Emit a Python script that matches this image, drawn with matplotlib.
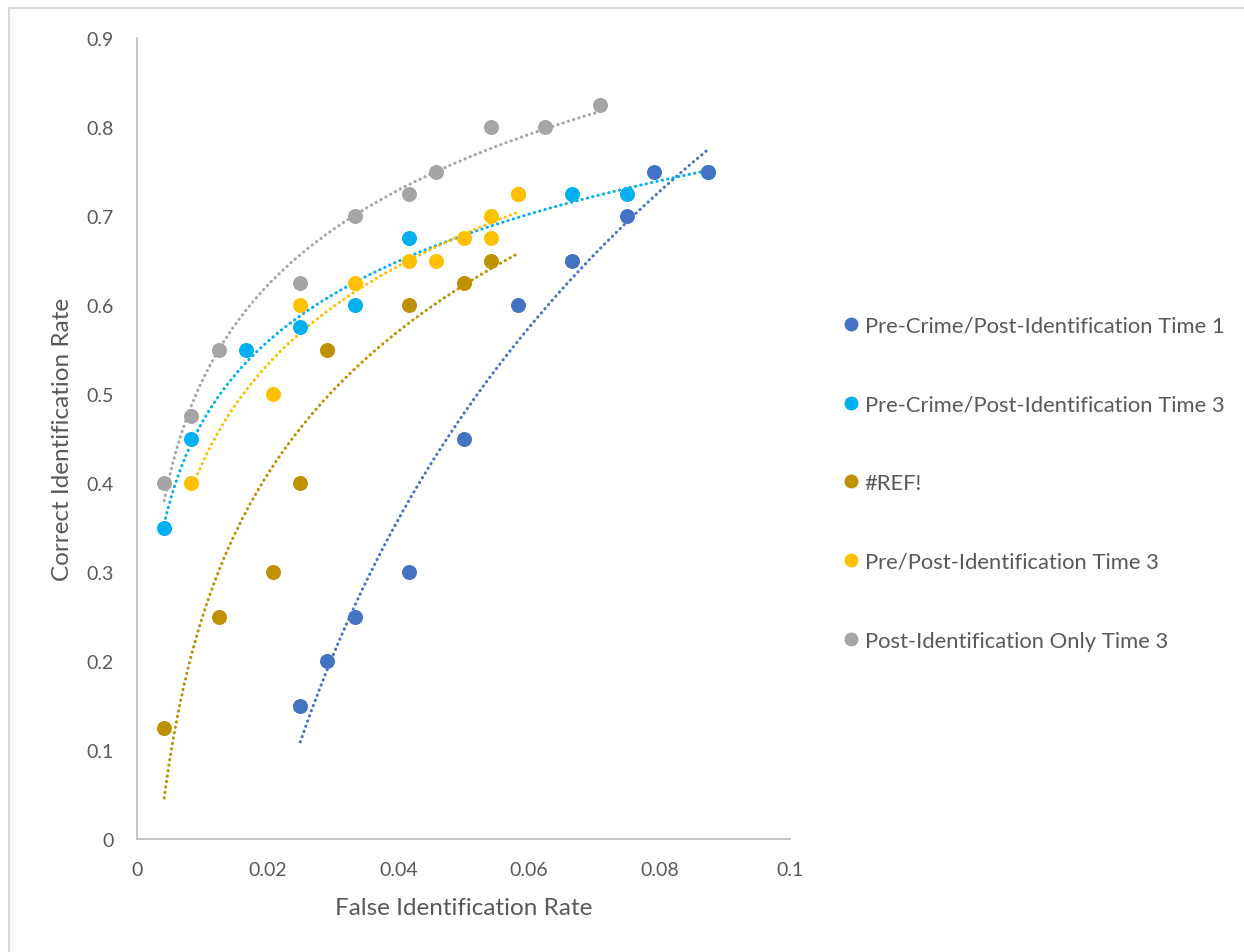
import numpy as np
import matplotlib.pyplot as plt
from matplotlib.lines import Line2D
from matplotlib.patches import Rectangle

plt.rcParams['font.family'] = ['Lato', 'DejaVu Sans']

labels = ['Pre-Crime/Post-Identification Time 1',
          'Pre-Crime/Post-Identification Time 3',
          '#REF!',
          'Pre/Post-Identification Time 3',
          'Post-Identification Only Time 3']
colors = ['#4472C4', '#00B0F0', '#BF9000', '#FFC000', '#A5A5A5']

# false identification rates are steps of 1/240
t1_x = [6, 7, 8, 10, 12, 14, 16, 18, 19, 21]
t1_y = [0.15, 0.2, 0.25, 0.3, 0.45, 0.6, 0.65, 0.7, 0.75, 0.75]

t3_x = [1, 2, 4, 6, 8, 10, 16, 18, 21]
t3_y = [0.35, 0.45, 0.55, 0.575, 0.6, 0.675, 0.725, 0.725, 0.75]

ref_x = [1, 3, 5, 6, 7, 10, 12, 13, 14]
ref_y = [0.125, 0.25, 0.3, 0.4, 0.55, 0.6, 0.625, 0.65, 0.725]

pp_x = [2, 5, 6, 8, 10, 11, 12, 13, 13, 14]
pp_y = [0.4, 0.5, 0.6, 0.625, 0.65, 0.65, 0.675, 0.7, 0.675, 0.725]

post_x = [1, 2, 3, 6, 8, 10, 11, 13, 15, 17]
post_y = [0.4, 0.475, 0.55, 0.625, 0.7, 0.725, 0.75, 0.8, 0.8, 0.825]

series = [(t1_x, t1_y), (t3_x, t3_y), (ref_x, ref_y), (pp_x, pp_y), (post_x, post_y)]
zorders = [6, 5, 4, 7, 8]

fig = plt.figure(figsize=(12.44, 9.53), dpi=100)
ax = fig.add_axes([137 / 1244, 1 - 840 / 953, 653 / 1244, 801 / 953])

for (xs, ys), c, lab, z in zip(series, colors, labels, zorders):
    x = np.array(xs) / 240.0
    y = np.array(ys)
    ax.plot(x, y, 'o', color=c, markersize=10.8, markeredgewidth=0, zorder=z)
    # logarithmic trendline
    b, a = np.polyfit(np.log(x), y, 1)
    xt = np.linspace(x.min(), x.max(), 300)
    ax.plot(xt, a + b * np.log(xt), color=c, linewidth=2.2,
            linestyle=(0, (0.1, 1.7)), dash_capstyle='round', zorder=3)

ax.set_xlim(0, 0.1)
ax.set_ylim(0, 0.9)
ax.set_xticks(np.arange(0, 0.101, 0.02))
ax.set_yticks(np.arange(0, 0.901, 0.1))
ax.set_xticklabels(['0', '0.02', '0.04', '0.06', '0.08', '0.1'])
ax.set_yticklabels(['0', '0.1', '0.2', '0.3', '0.4', '0.5', '0.6', '0.7', '0.8', '0.9'])
ax.tick_params(length=0, labelsize=14, labelcolor='#595959')
ax.tick_params(axis='y', pad=17)
ax.tick_params(axis='x', pad=16)
for s in ['top', 'right']:
    ax.spines[s].set_visible(False)
for s in ['left', 'bottom']:
    ax.spines[s].set_color('#BFBFBF')
    ax.spines[s].set_linewidth(1.3)

ax.set_xlabel('False Identification Rate', fontsize=17.5, color='#595959')
ax.set_ylabel('Correct Identification Rate', fontsize=17.5, color='#595959')
ax.xaxis.set_label_coords(0.5, -0.072)
ax.yaxis.set_label_coords(-0.098, 0.5)

handles = [Line2D([], [], marker='o', linestyle='none', color=c,
                  markersize=10, markeredgewidth=0) for c in colors]
fig.legend(handles, labels, loc='center left', bbox_to_anchor=(843 / 1244, 1 - 484 / 953),
           frameon=False, fontsize=15.8, labelcolor='#595959', handlelength=0.72,
           handletextpad=0.27, labelspacing=2.68, borderpad=0, borderaxespad=0)

fig.add_artist(Rectangle((9 / 1244, -0.1), 1.2, 1.1 - 9 / 953, transform=fig.transFigure,
                         fill=False, edgecolor='#D9D9D9', linewidth=1.5))

fig.savefig('out.png', dpi=100)
